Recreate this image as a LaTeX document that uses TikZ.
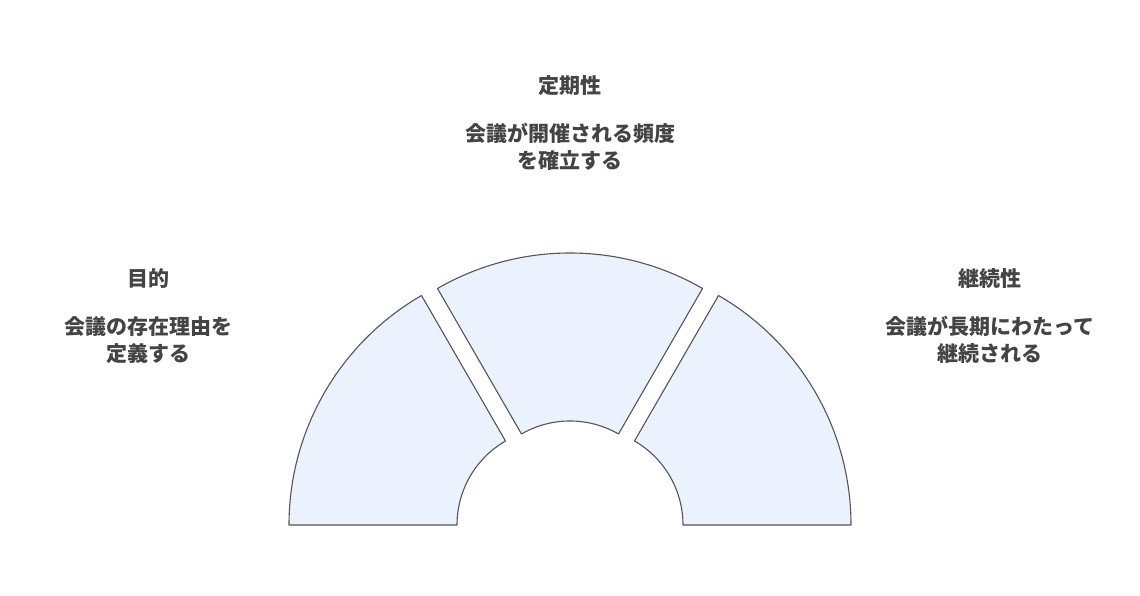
\documentclass[tikz,border=0pt]{standalone}
\usepackage{fontspec}
\setmainfont{Noto Sans CJK JP}
\usepackage{tikz}
\definecolor{segfill}{HTML}{EBF2FE}
\definecolor{segline}{HTML}{555555}
\definecolor{txtgray}{HTML}{444444}

\begin{document}
\begin{tikzpicture}[x=1pt,y=1pt,node distance=61pt]
		\tikzstyle{sector}=[fill=segfill,draw=segline,line width=1.1pt,line join=round]
		\tikzstyle{title}=[text=txtgray,font=\fontsize{21}{27}\selectfont\bfseries]
		\tikzstyle{body}=[text=txtgray,align=center,font=\fontsize{21}{27}\selectfont\bfseries]
		\useasboundingbox (0,0) rectangle (1140,596);
		
		\coordinate (cl) at (554,71);
		\coordinate (cm) at (570,78);
		\coordinate (cr) at (586,71);
		
		\draw[sector] (cl) ++(180:265) arc[start angle=180,end angle=120,radius=265]
			-- ++(300:168) arc[start angle=120,end angle=180,radius=97] -- cycle;
		\draw[sector] (cm) ++(120:265) arc[start angle=120,end angle=60,radius=265]
			-- ++(240:168) arc[start angle=60,end angle=120,radius=97] -- cycle;
		\draw[sector] (cr) ++(60:265) arc[start angle=60,end angle=0,radius=265]
			-- ++(180:168) arc[start angle=0,end angle=60,radius=97] -- cycle;
		
		\node[title] (t1) at (148,317) {目的};
		\node[body] (b1) [below of=t1] {会議の存在理由を\\定義する};
		\node[title] (t2) at (570,510) {定期性};
		\node[body] (b2) [below of=t2] {会議が開催される頻度\\を確立する};
		\node[title] (t3) at (990,317) {継続性};
		\node[body] (b3) [below of=t3] {会議が長期にわたって\\継続される};
\end{tikzpicture}
\end{document}
